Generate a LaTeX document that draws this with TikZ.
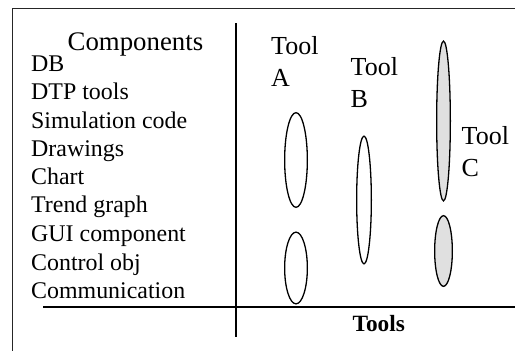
\documentclass[tikz,border=0pt]{standalone}
\usepackage{fontspec}
\setmainfont{Liberation Serif}
\usetikzlibrary{shapes.geometric}

\tikzset{
  frameline/.style={draw=black!85, line width=0.9pt},
  axisline/.style={draw=black, line width=2pt},
  item/.style={anchor=base west, inner sep=0pt, font=\fontsize{23.9}{28}\selectfont},
  % base anchor of a two-line label sits on its second line
  toollabel/.style={anchor=base west, inner sep=0pt, align=left, font=\fontsize{26}{32}\selectfont},
  usage/.style={ellipse, draw=black, line width=1.3pt, inner sep=0pt},
  shared/.style={usage, fill=black!12},
}

\begin{document}
\begin{tikzpicture}[x=1pt, y=-1pt]
  \useasboundingbox (0,0) rectangle (515,351);

  % outer frame (open on the right and bottom)
  \draw[frameline] (12,351) -- (12,8) -- (515,8);

  % axes
  \draw[axisline] (235.7,23) -- (235.7,337);
  \draw[axisline] (43,306.7) -- (515,306.7);

  % component list
  \node[anchor=base west, inner sep=0pt, font=\fontsize{26.8}{30}\selectfont] (comp) at (67.5,50) {Components};
  \node[item] (db)   at (31,71)    {DB};
  \node[item] (dtp)  at (31,99.5)  {DTP tools};
  \node[item] (sim)  at (31,128)   {Simulation code};
  \node[item] (drw)  at (31,156.5) {Drawings};
  \node[item] (cht)  at (31,184.8) {Chart};
  \node[item] (trd)  at (31,212.8) {Trend graph};
  \node[item] (gui)  at (31,241.5) {GUI component};
  \node[item] (ctl)  at (31,270)   {Control obj};
  \node[item] (com)  at (31,298)   {Communication};

  % tool labels
  \node[toollabel] (ta) at (271,86)  {Tool\\A};
  \node[toollabel] (tb) at (350.5,107) {Tool\\B};
  \node[toollabel] (tc) at (461.5,176) {Tool\\C};

  % coverage of each tool
  \node[usage, minimum width=22.7pt, minimum height=94.7pt]  (a1) at (296,160)   {};
  \node[usage, minimum width=22.7pt, minimum height=71.7pt]  (a2) at (296,268)   {};
  \node[usage, minimum width=14.7pt, minimum height=127.7pt] (b1) at (364,200)   {};
  \node[shared, minimum width=13.7pt, minimum height=159.7pt] (c1) at (443.5,121) {};
  \node[shared, minimum width=17.7pt, minimum height=70.7pt]  (c2) at (443.5,251) {};

  % horizontal axis title
  \node[anchor=base, inner sep=0pt, font=\fontsize{23.3}{28}\selectfont\bfseries] (tools) at (378.7,331) {Tools};
\end{tikzpicture}
\end{document}
